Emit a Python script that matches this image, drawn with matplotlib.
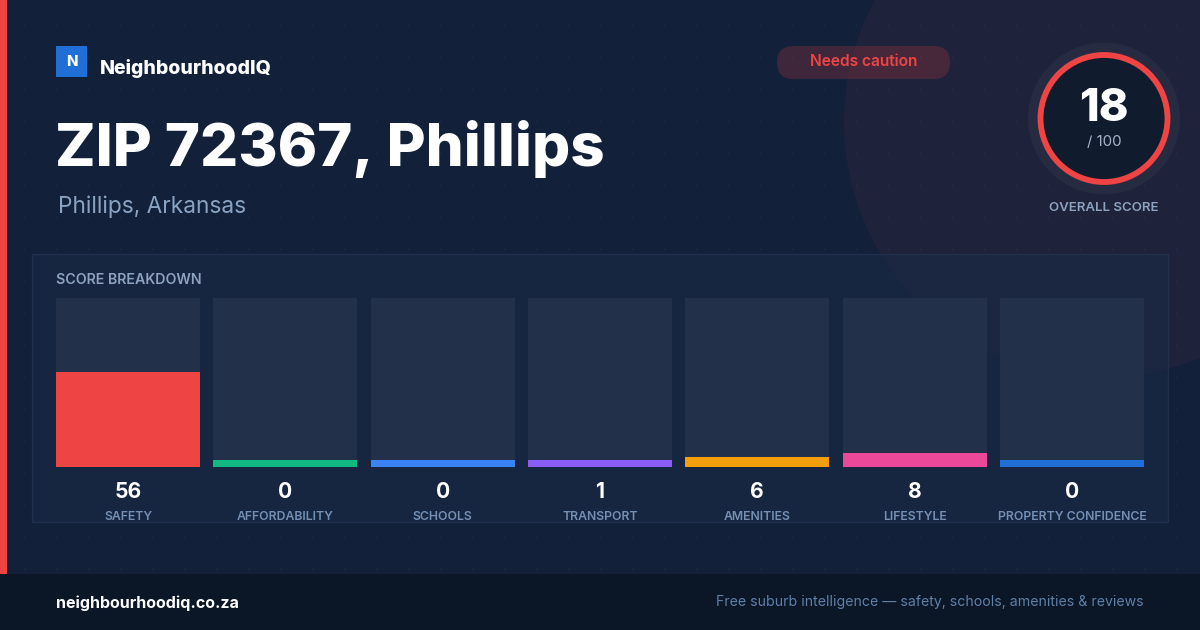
import matplotlib
matplotlib.use("Agg")
import matplotlib.pyplot as plt
import numpy as np
from matplotlib.patches import Rectangle, Circle, FancyBboxPatch

# data
CATEGORIES = ["SAFETY", "AFFORDABILITY", "SCHOOLS", "TRANSPORT", "AMENITIES",
              "LIFESTYLE", "PROPERTY CONFIDENCE"]
SCORES = [56, 0, 0, 1, 6, 8, 0]
BAR_COLORS = ["#ef4444", "#10b981", "#3b82f6", "#8b5cf6", "#f59e0b", "#ec4899", "#1f6fd6"]
OVERALL = 18
OVERALL_MAX = 100
TITLE = "ZIP 72367, Phillips"
SUBTITLE = "Phillips, Arkansas"
BADGE = "Needs caution"
BRAND = "NeighbourhoodIQ"
SITE = "neighbourhoodiq.co.za"
TAGLINE = "Free suburb intelligence \u2014 safety, schools, amenities & reviews"

W, H = 1200, 630
FONT = ["Inter", "DejaVu Sans"]
plt.rcParams['font.family'] = FONT

BG = "#12203a"
FOOTER = "#0b1626"
MUTED = "#8ea3bf"


def px(p):
    # pixel size -> points at dpi 100
    return p * 0.72


fig = plt.figure(figsize=(W / 100, H / 100), dpi=100)
fig.patch.set_facecolor(BG)

bg = fig.add_axes([0, 0, 1, 1])
bg.set_xlim(0, W)
bg.set_ylim(H, 0)
bg.axis('off')

# faint dot grid
gx, gy = np.meshgrid(np.arange(24, W, 32), np.arange(25, 574, 32))
bg.scatter(gx.ravel(), gy.ravel(), s=1.2, color="#2a3a58", alpha=0.5, lw=0, zorder=1)

# big soft circle top right
bg.add_patch(Circle((1100, 122), 256, color="#ef4444", alpha=0.06, lw=0, zorder=2))

# left accent stripe and footer
bg.add_patch(Rectangle((0, 0), 7, 574, color="#ef4444", lw=0, zorder=3))
bg.add_patch(Rectangle((0, 574), W, 56, color=FOOTER, lw=0, zorder=3))

# brand
bg.add_patch(Rectangle((56, 46), 31, 31, color="#1f6fd6", lw=0, zorder=4))
bg.text(71.5, 61.5, "N", color="white", fontsize=px(15), fontweight="heavy",
        ha="center", va="center", zorder=5)
bg.text(100, 68, BRAND, color="white", fontsize=px(19.5), fontweight="heavy",
        ha="left", va="center", zorder=5)

# titles
bg.text(55, 148.5, TITLE, color="white", fontsize=px(60), fontweight="heavy",
        ha="left", va="center", zorder=5)
bg.text(58, 207, SUBTITLE, color="#8aa3c2", fontsize=px(22.7), ha="left",
        va="center", zorder=5)

# badge
bg.add_patch(FancyBboxPatch((777, 46), 173, 33, boxstyle="round,pad=0,rounding_size=16.5",
                            color="#ef4444", alpha=0.2, lw=0, zorder=4))
bg.text(863.5, 62, BADGE, color="#ef4444", fontsize=px(15.5), fontweight="semibold",
        ha="center", va="center", zorder=5)

# overall score ring
cx, cy = 1104, 118.5
bg.add_patch(Circle((cx, cy), 76, color="#262b41", lw=0, zorder=4))
bg.add_patch(Circle((cx, cy), 63.5, facecolor="#111b2e", edgecolor="#ef4444", lw=4.2, zorder=5))
bg.text(cx, 109, str(OVERALL), color="white", fontsize=px(45), fontweight="heavy",
        ha="center", va="center", zorder=6)
bg.text(cx, 142, "/ %d" % OVERALL_MAX, color="#a3b3c9", fontsize=px(15), ha="center",
        va="center", zorder=6)
bg.text(cx, 208, "OVERALL SCORE", color=MUTED, fontsize=px(13.3), fontweight="semibold",
        ha="center", va="center", zorder=6)

# breakdown panel
bg.add_patch(Rectangle((32, 254), 1136, 268, facecolor="#1a2a45", alpha=0.55,
                       edgecolor="#2b3b57", lw=1, zorder=3))
bg.text(56, 280, "SCORE BREAKDOWN", color=MUTED, fontsize=px(14.2), fontweight="semibold",
        ha="left", va="center", zorder=5)

# footer texts
bg.text(56, 603, SITE, color="white", fontsize=px(16), fontweight="bold",
        ha="left", va="center", zorder=5)
bg.text(1144, 602, TAGLINE, color="#5f80a8", fontsize=px(14.1), ha="right",
        va="center", zorder=5)

# bars
left, right, top, bottom = 56, 1144, 298, 467
ax = fig.add_axes([left / W, (H - bottom) / H, (right - left) / W, (bottom - top) / H])
ax.set_facecolor("none")
ax.axis('off')
x = np.arange(len(CATEGORIES))
width = 144 / 157.33
ax.set_xlim(-width / 2, len(CATEGORIES) - 1 + width / 2)
ax.set_ylim(0, 100)
ax.bar(x, 100, width=width, color="#22304a", lw=0, zorder=1)
shown = np.maximum(np.array(SCORES, dtype=float), 4)  # keep a visible sliver
ax.bar(x, shown, width=width, color=BAR_COLORS, lw=0, zorder=2)

for i, (cat, val) in enumerate(zip(CATEGORIES, SCORES)):
    ax.annotate(str(val), xy=(i, 0), xytext=(0, -25), textcoords="offset pixels",
                ha="center", va="center", color="white", fontsize=px(21),
                fontweight="bold", annotation_clip=False)
    ax.annotate(cat, xy=(i, 0), xytext=(0, -50), textcoords="offset pixels",
                ha="center", va="center", color="#7590b4", fontsize=px(12.3),
                fontweight="semibold", annotation_clip=False)

fig.savefig("out.png", dpi=100, facecolor=fig.get_facecolor())
